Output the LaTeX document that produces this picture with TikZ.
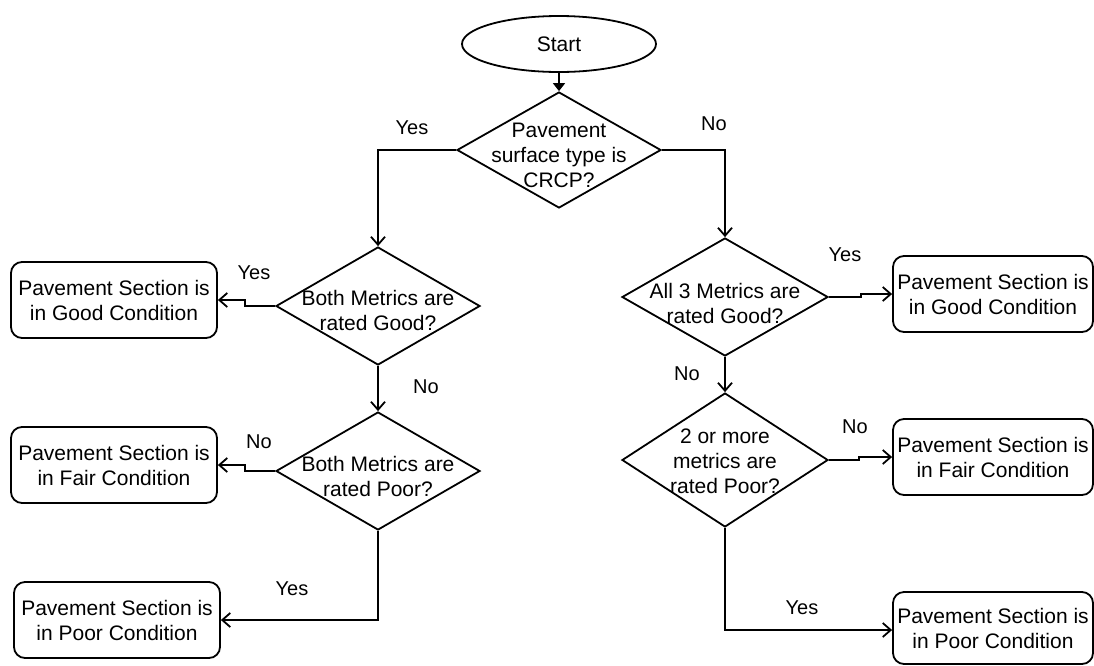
\documentclass[tikz,border=0pt]{standalone}
\usepackage{fontspec}
\setmainfont{Liberation Sans}
\usetikzlibrary{shapes.geometric,arrows.meta}
\begin{document}
\begin{tikzpicture}[x=1pt,y=-1pt,
  every node/.style={font=\fontsize{21}{25}\selectfont},
  base/.style={draw=black,line width=1.8pt},
  dia/.style={base,diamond,inner sep=0pt},
  startshape/.style={base,ellipse,inner sep=0pt,minimum width=194pt,minimum height=56pt},
  boxnode/.style={base,rounded corners=11pt,align=center,inner sep=2pt,minimum width=206pt,minimum height=76pt},
  dtext/.style={align=center,inner sep=0pt},
  lab/.style={font=\fontsize{20}{24}\selectfont,inner sep=0pt},
  conn/.style={line width=1.8pt,-{Straight Barb[length=8pt,width=14pt,line width=1.8pt]}},
  tconn/.style={line width=1.8pt,-{Triangle[length=8pt,width=12pt]}}]
\useasboundingbox (0,0) rectangle (1094,665);
% shapes
\node[startshape] (start) at (559,44) {Start};
\node[dia,minimum width=204pt,minimum height=116pt] (d1) at (559,150) {};
\node[dtext] at (559,155) {Pavement\\surface type is\\CRCP?};
\node[dia,minimum width=204pt,minimum height=118pt] (d2) at (378,306) {};
\node[dtext] at (378,310) {Both Metrics are\\rated Good?};
\node[dia,minimum width=204pt,minimum height=118pt] (d4) at (378,471) {};
\node[dtext] at (378,476) {Both Metrics are\\rated Poor?};
\node[dia,minimum width=206pt,minimum height=118pt] (d3) at (725,297) {};
\node[dtext] at (725,303) {All 3 Metrics are\\rated Good?};
\node[dia,minimum width=206pt,minimum height=134pt] (d5) at (725,460) {};
\node[dtext] at (725,461) {2 or more\\metrics are\\rated Poor?};
\node[boxnode] (bgL) at (114,300) {Pavement Section is\\in Good Condition};
\node[boxnode] (bfL) at (114,465) {Pavement Section is\\in Fair Condition};
\node[boxnode] (bpL) at (117,620) {Pavement Section is\\in Poor Condition};
\node[boxnode,minimum width=200pt] (bgR) at (993,294) {Pavement Section is\\in Good Condition};
\node[boxnode,minimum width=200pt] (bfR) at (993,457) {Pavement Section is\\in Fair Condition};
\node[boxnode,minimum width=200pt,minimum height=72pt] (bpR) at (993,628) {Pavement Section is\\in Poor Condition};
% connectors
\draw[tconn] (start.south) -- (d1.north);
\draw[conn] (d1.west) -| (d2.north);
\draw[conn] (d1.east) -| (d3.north);
\draw[conn] (d2.west) -- ++(-30,0) |- (bgL.east);
\draw[conn] (d2.south) -- (d4.north);
\draw[conn] (d4.west) -- ++(-30,0) |- (bfL.east);
\draw[conn] (d4.south) |- (bpL.east);
\draw[conn] (d3.east) -- ++(32,0) |- (bgR.west);
\draw[conn] (d3.south) -- (d5.north);
\draw[conn] (d5.east) -- ++(30,0) |- (bfR.west);
\draw[conn] (d5.south) |- ([yshift=-2pt]bpR.west);
% labels
\node[lab] at (412,128) {Yes};
\node[lab] at (714,124) {No};
\node[lab] at (254,273) {Yes};
\node[lab] at (426,387) {No};
\node[lab] at (259,442) {No};
\node[lab] at (292,589) {Yes};
\node[lab] at (845,255) {Yes};
\node[lab] at (687,374) {No};
\node[lab] at (855,427) {No};
\node[lab] at (802,608) {Yes};
\end{tikzpicture}
\end{document}
